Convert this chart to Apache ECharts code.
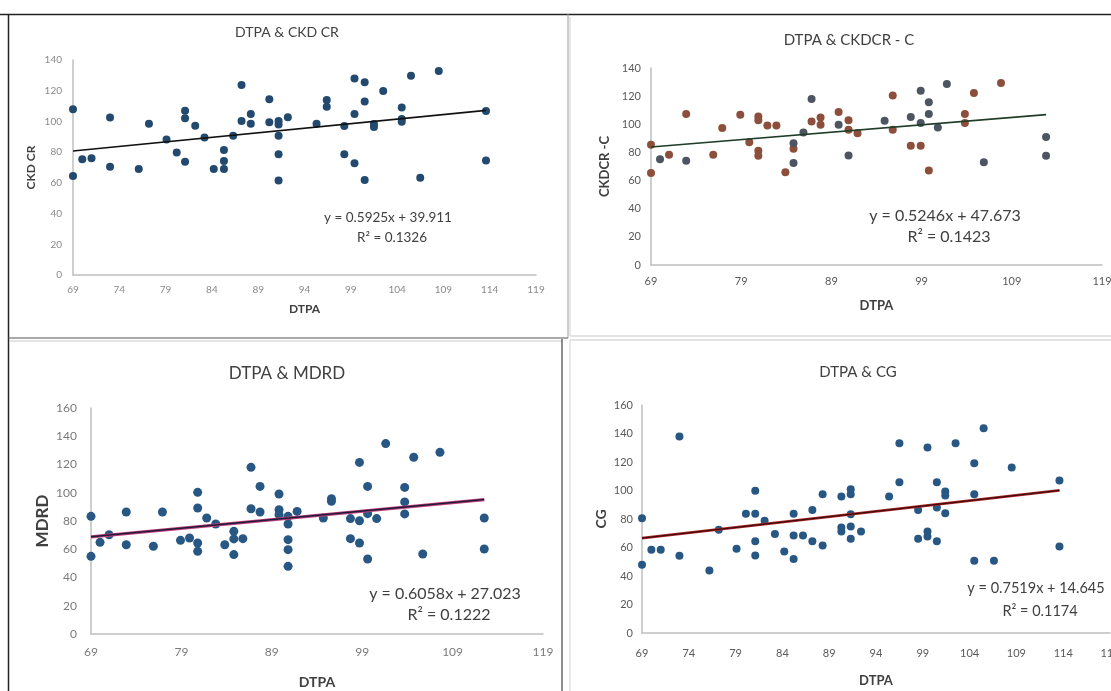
<!DOCTYPE html>
<html>
<head>
<meta charset="utf-8">
<script src="https://cdn.jsdelivr.net/npm/echarts@6/dist/echarts.min.js"></script>
<style>
html,body{margin:0;padding:0;background:#fff;overflow:hidden;}
#c{width:1111px;height:691px;}
</style>
</head>
<body>
<div id="c"></div>
<script>
// ---- Data ----
const panelTitles = ['DTPA & CKD CR', 'DTPA & CKDCR - C', 'DTPA & MDRD', 'DTPA & CG'];
const yNames = ['CKD CR', 'CKDCR -C', 'MDRD', 'CG'];
const xName = 'DTPA';
const slopes = [0.5925, 0.5246, 0.6058, 0.7519];
const intercepts = [39.911, 47.673, 27.023, 14.645];
const r2 = ['0.1326', '0.1423', '0.1222', '0.1174'];
const yMax = [140, 140, 160, 160];
const xInterval = [5, 10, 10, 5];

const ckdCr = [[69,108],[69,64.5],[70,75.3],[71,76],[73,102.5],[73,70.5],[76.1,69],[77.2,98.5],[79.1,88.3],[80.2,79.7],[81.1,107],[81.1,102],[81.1,73.8],[82.2,97.2],[83.2,89.6],[84.2,69],[85.3,81.4],[85.3,74.2],[85.3,69],[86.3,90.7],[87.2,123.7],[87.2,100.3],[88.2,104.8],[88.2,98.5],[90.2,114.4],[90.2,99.4],[91.2,100.3],[91.2,98],[91.2,90.7],[91.2,78.6],[91.2,61.6],[92.2,102.8],[95.3,98.5],[96.4,114],[96.4,109.6],[98.3,97],[98.3,78.6],[99.4,128],[99.4,104.8],[99.4,72.7],[100.5,125.5],[100.5,112.9],[100.5,61.9],[101.5,98.3],[101.5,96.4],[102.5,119.8],[104.5,109],[104.5,101.6],[104.5,99.8],[105.5,129.8],[106.5,63.4],[108.5,132.8],[113.6,106.8],[113.6,74.5]];

const ckdcrCBrown = [[69,85.4],[69,65.3],[71,78.3],[72.9,107.3],[75.9,78.3],[76.9,97.3],[78.9,106.8],[79.9,87.3],[80.9,105.6],[80.9,102.8],[80.9,81.2],[80.9,77.6],[81.9,99.2],[82.9,99.2],[83.9,66],[84.8,82.6],[86.8,102],[87.8,104.9],[87.8,99.7],[89.8,108.7],[90.9,102.8],[90.9,96.1],[91.9,93.7],[95.8,120.5],[95.8,96.1],[97.8,84.7],[98.9,84.7],[99.8,67.2],[103.8,107.3],[103.8,100.9],[104.8,122.2],[107.8,129.3]];
const ckdcrCDark = [[70,75.2],[72.9,74],[84.8,86.6],[84.8,72.4],[85.9,94.2],[86.8,117.9],[89.8,99.7],[90.9,77.8],[94.9,102.5],[97.8,105.1],[98.9,123.9],[98.9,100.9],[99.8,115.6],[99.8,107.3],[100.8,97.8],[101.8,128.6],[105.9,73.1],[112.8,90.9],[112.8,77.6]];

const mdrd = [[69,83.3],[69,55],[70,64.9],[71,70.3],[72.9,86.4],[72.9,63.2],[75.9,62.1],[76.9,86.4],[78.9,66.3],[79.9,68],[80.8,100.3],[80.8,89.2],[80.8,64.4],[80.8,58.5],[81.8,82.1],[82.8,77.9],[83.8,63.2],[84.8,72.7],[84.8,67.3],[84.8,56.2],[85.8,67.5],[86.7,118],[86.7,88.7],[87.7,104.5],[87.7,86.4],[89.8,99.1],[89.8,88],[89.8,84.5],[90.8,83.3],[90.8,77.9],[90.8,66.8],[90.8,59.7],[90.8,47.9],[91.8,86.8],[94.7,82.1],[95.6,95.8],[95.6,93.9],[97.7,81.7],[97.7,67.5],[98.7,121.5],[98.7,80.2],[98.7,64.4],[99.6,104.5],[99.6,85.2],[99.6,53.1],[100.6,81.7],[101.6,134.8],[103.7,103.8],[103.7,93.5],[103.7,85],[104.7,125.1],[105.7,56.6],[107.6,128.6],[112.5,82.1],[112.5,60.2]];

const cg = [[69,80.6],[69,47.9],[70,58.4],[71,58.4],[73,137.9],[73,54.2],[76.2,43.9],[77.2,72.4],[79.1,59.1],[80.1,83.6],[81.1,99.8],[81.1,83.6],[81.1,64.3],[81.1,54.4],[82.1,78.7],[83.2,69.4],[84.2,57.2],[85.2,83.6],[85.2,68.5],[85.2,51.9],[86.2,68.5],[87.2,86.4],[87.2,64.3],[88.3,97.4],[88.3,61.4],[90.3,95.8],[90.3,74.1],[90.3,71.3],[91.3,100.9],[91.3,97.4],[91.3,83.4],[91.3,74.8],[91.3,66.1],[92.4,71.3],[95.4,95.8],[96.5,133.2],[96.5,105.8],[98.5,86.4],[98.5,66.1],[99.5,130.1],[99.5,71.3],[99.5,67.8],[100.5,105.8],[100.5,88.1],[100.5,64.3],[101.4,99.3],[101.4,96.5],[101.4,84.1],[102.5,133.2],[104.5,119.2],[104.5,97.4],[104.5,50.7],[105.5,143.7],[106.6,50.7],[108.5,116.1],[113.6,107],[113.6,60.7]];

// ---- Layout / style ----
const FONT = 'Lato, "Open Sans", "Liberation Sans", sans-serif';
const grids = [
  {left: 73, top: 60, width: 463, height: 215},
  {left: 651, top: 68, width: 451, height: 197},
  {left: 91, top: 408, width: 452, height: 226},
  {left: 642, top: 405, width: 468, height: 228}
];
const tickFont = [10, 11, 12, 11];
const tickColor = ['#8a8a8a', '#595959', '#7a7a7a', '#595959'];
const xLabelMargin = [10, 11, 12, 15];
const yLabelMargin = [11, 10, 14, 9];
const yNameGap = [36, 40, 40, 34];
const xNameGap = [28, 34, 41, 41];
const yNameSize = [12, 13, 17, 14];
const xNameSize = [12, 13, 14, 13];

function trend(i, pts) {
  const xs = pts.map(p => p[0]);
  const x0 = Math.min.apply(null, xs), x1 = Math.max.apply(null, xs);
  return [[x0, slopes[i] * x0 + intercepts[i]], [x1, slopes[i] * x1 + intercepts[i]]];
}

const xAxes = grids.map((g, i) => ({
  type: 'value', gridIndex: i, min: 69, max: 119, interval: xInterval[i],
  name: xName, nameLocation: 'middle', nameGap: xNameGap[i],
  nameTextStyle: {fontFamily: FONT, fontWeight: 'bold', fontSize: xNameSize[i], color: '#404040'},
  axisLine: {lineStyle: {color: '#bfbfbf', width: 1.5}},
  axisTick: {show: false}, splitLine: {show: false},
  axisLabel: {fontFamily: FONT, fontSize: tickFont[i], color: tickColor[i], margin: xLabelMargin[i], showMaxLabel: true, showMinLabel: true}
}));
const yAxes = grids.map((g, i) => ({
  type: 'value', gridIndex: i, min: 0, max: yMax[i], interval: 20,
  name: yNames[i], nameLocation: 'middle', nameGap: yNameGap[i], nameRotate: 90,
  nameTextStyle: {fontFamily: FONT, fontWeight: 'bold', fontSize: yNameSize[i], color: '#404040'},
  axisLine: {show: true, lineStyle: {color: '#bfbfbf', width: 1.5}},
  axisTick: {show: false}, splitLine: {show: false},
  axisLabel: {fontFamily: FONT, fontSize: tickFont[i], color: tickColor[i], margin: yLabelMargin[i]}
}));

function scatter(i, data, color, size) {
  return {type: 'scatter', xAxisIndex: i, yAxisIndex: i, data: data, symbolSize: size || 8,
    itemStyle: {color: color, opacity: 1}, silent: true, z: 3};
}
function line(i, pts, color, width, z) {
  return {type: 'line', xAxisIndex: i, yAxisIndex: i, data: trend(i, pts), symbol: 'none',
    lineStyle: {color: color, width: width}, silent: true, z: z || 4, animation: false};
}

const series = [
  scatter(0, ckdCr, '#234a6e', 8),
  line(0, ckdCr, '#111111', 1.6),
  scatter(1, ckdcrCBrown, '#8c4f3c', 8),
  scatter(1, ckdcrCDark, '#4d5563', 8),
  line(1, ckdcrCBrown.concat(ckdcrCDark), '#1f3d28', 1.6),
  scatter(2, mdrd, '#285784', 9),
  line(2, mdrd, '#c2407a', 3.2, 4),
  line(2, mdrd, '#1e1a3a', 1.4, 5),
  scatter(3, cg, '#285784', 8),
  line(3, cg, '#b02828', 2.8, 4),
  line(3, cg, '#3a0c0c', 1.2, 5)
];

// texts
const titlePos = [[287, 32, 14], [849, 40, 15], [287, 374, 17], [858, 372, 15]];
const eqPos = [[388, 218, 238, 13.5], [945, 216, 237, 16], [445, 594, 615, 16], [1036, 588, 611, 14.5]];

const graphics = [];
titlePos.forEach((t, i) => {
  graphics.push({type: 'text', x: t[0], y: t[1], silent: true,
    style: {text: panelTitles[i], font: 'normal ' + t[2] + 'px ' + FONT, fill: '#404040', textAlign: 'center', textVerticalAlign: 'middle'}});
});
eqPos.forEach((e, i) => {
  const eq = 'y = ' + slopes[i] + 'x + ' + intercepts[i].toFixed(3);
  graphics.push({type: 'text', x: e[0], y: e[1], silent: true,
    style: {text: eq, font: 'normal ' + e[3] + 'px ' + FONT, fill: '#404040', textAlign: 'center', textVerticalAlign: 'middle'}});
  graphics.push({type: 'text', x: e[0] + 4, y: e[2], silent: true,
    style: {text: 'R\u00B2 = ' + r2[i], font: 'normal ' + e[3] + 'px ' + FONT, fill: '#404040', textAlign: 'center', textVerticalAlign: 'middle'}});
});
// panel frames
function seg(x1, y1, x2, y2, color, w) {
  return {type: 'line', silent: true, shape: {x1: x1, y1: y1, x2: x2, y2: y2}, style: {stroke: color, lineWidth: w}};
}
graphics.push(seg(0, 14.5, 1111, 14.5, '#222', 1.5));
graphics.push(seg(8.5, 14, 8.5, 691, '#222', 1.5));
graphics.push(seg(568, 14, 568, 338, '#9a9a9a', 1));
graphics.push(seg(8, 338, 568, 338, '#555', 1.2));
graphics.push(seg(570, 17, 570, 336, '#d0d0d0', 1));
graphics.push(seg(570, 336, 1111, 336, '#c8c8c8', 1.2));
graphics.push(seg(9, 341, 562, 341, '#c8c8c8', 1.2));
graphics.push(seg(562, 339, 562, 691, '#444', 1.2));
graphics.push(seg(570, 340, 1111, 340, '#c8c8c8', 1.2));
graphics.push(seg(570, 340, 570, 691, '#d0d0d0', 1));

const chart = echarts.init(document.getElementById('c'), null, {renderer: 'canvas'});
chart.setOption({
  animation: false,
  backgroundColor: '#ffffff',
  grid: grids.map(g => Object.assign({containLabel: false, outerBoundsMode: 'none'}, g)),
  xAxis: xAxes,
  yAxis: yAxes,
  series: series,
  graphic: graphics
});
</script>
</body>
</html>
